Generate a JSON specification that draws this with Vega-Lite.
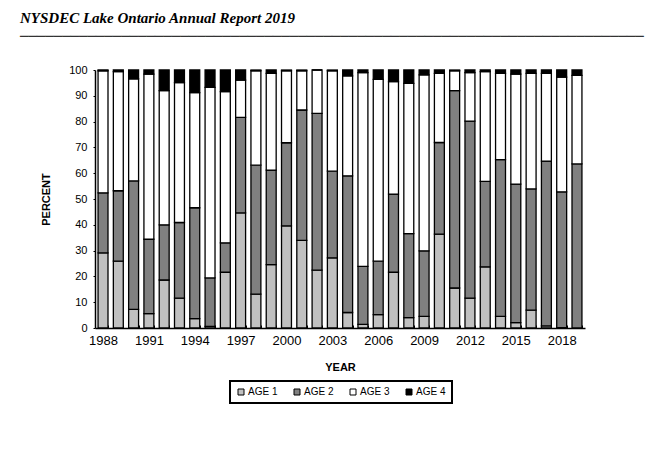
{
  "$schema": "https://vega.github.io/schema/vega-lite/v6.json",
  "width": 490,
  "height": 258,
  "autosize": {"type": "none"},
  "padding": {"left": 95, "top": 70, "right": 66, "bottom": 147},
  "background": "white",
  "title": {
    "text": "NYSDEC Lake Ontario Annual Report 2019",
    "subtitle": "──────────────────────────────────────────────────────────────────────────",
    "anchor": "start",
    "frame": "group",
    "dx": -75,
    "offset": 20,
    "font": "Liberation Serif",
    "fontSize": 15,
    "fontWeight": "bold",
    "fontStyle": "italic",
    "color": "#000",
    "subtitleFont": "DejaVu Sans Mono",
    "subtitleFontSize": 14,
    "subtitleColor": "#333",
    "subtitlePadding": 4
  },
  "datasets": {
    "wide": [
      {"year": "1988", "a1": 29.1, "a2": 23.3, "a3": 47.3, "a4": 0.3},
      {"year": "1989", "a1": 25.9, "a2": 27.3, "a3": 46.2, "a4": 0.6},
      {"year": "1990", "a1": 7.2, "a2": 49.8, "a3": 39.6, "a4": 3.4},
      {"year": "1991", "a1": 5.6, "a2": 28.8, "a3": 64.0, "a4": 1.6},
      {"year": "1992", "a1": 18.6, "a2": 21.4, "a3": 52.0, "a4": 8.0},
      {"year": "1993", "a1": 11.6, "a2": 29.3, "a3": 54.2, "a4": 4.9},
      {"year": "1994", "a1": 3.6, "a2": 43.0, "a3": 44.6, "a4": 8.8},
      {"year": "1995", "a1": 0.6, "a2": 18.8, "a3": 73.9, "a4": 6.7},
      {"year": "1996", "a1": 21.6, "a2": 11.4, "a3": 58.6, "a4": 8.4},
      {"year": "1997", "a1": 44.6, "a2": 37.0, "a3": 14.5, "a4": 3.9},
      {"year": "1998", "a1": 13.1, "a2": 50.0, "a3": 36.6, "a4": 0.3},
      {"year": "1999", "a1": 24.6, "a2": 36.6, "a3": 37.5, "a4": 1.3},
      {"year": "2000", "a1": 39.6, "a2": 32.2, "a3": 27.9, "a4": 0.3},
      {"year": "2001", "a1": 34.0, "a2": 50.5, "a3": 15.2, "a4": 0.3},
      {"year": "2002", "a1": 22.4, "a2": 60.8, "a3": 16.8, "a4": 0.0},
      {"year": "2003", "a1": 27.2, "a2": 33.6, "a3": 38.9, "a4": 0.3},
      {"year": "2004", "a1": 6.0, "a2": 53.0, "a3": 38.7, "a4": 2.3},
      {"year": "2005", "a1": 1.4, "a2": 22.5, "a3": 75.1, "a4": 1.0},
      {"year": "2006", "a1": 5.2, "a2": 20.7, "a3": 70.5, "a4": 3.6},
      {"year": "2007", "a1": 21.6, "a2": 30.3, "a3": 43.6, "a4": 4.5},
      {"year": "2008", "a1": 4.0, "a2": 32.6, "a3": 58.2, "a4": 5.2},
      {"year": "2009", "a1": 4.5, "a2": 25.4, "a3": 68.2, "a4": 1.9},
      {"year": "2010", "a1": 36.4, "a2": 35.5, "a3": 26.8, "a4": 1.3},
      {"year": "2011", "a1": 15.5, "a2": 76.5, "a3": 7.7, "a4": 0.3},
      {"year": "2012", "a1": 11.6, "a2": 68.6, "a3": 18.8, "a4": 1.0},
      {"year": "2013", "a1": 23.7, "a2": 33.1, "a3": 42.6, "a4": 0.6},
      {"year": "2014", "a1": 4.5, "a2": 60.8, "a3": 33.4, "a4": 1.3},
      {"year": "2015", "a1": 2.1, "a2": 53.7, "a3": 42.6, "a4": 1.6},
      {"year": "2016", "a1": 6.9, "a2": 47.0, "a3": 44.8, "a4": 1.3},
      {"year": "2017", "a1": 0.8, "a2": 63.9, "a3": 34.0, "a4": 1.3},
      {"year": "2018", "a1": 0.1, "a2": 52.7, "a3": 44.4, "a4": 2.8},
      {"year": "2019", "a1": 0.0, "a2": 63.6, "a3": 34.3, "a4": 2.1}
    ]
  },
  "data": {"name": "wide"},
  "transform": [
    {"fold": ["a1", "a2", "a3", "a4"], "as": ["age", "pct"]}
  ],
  "mark": {"type": "bar", "stroke": "#000", "strokeWidth": 1.3},
  "encoding": {
    "x": {
      "field": "year",
      "type": "nominal",
      "scale": {"paddingInner": 0.35, "paddingOuter": 0.2},
      "axis": {
        "title": "YEAR",
        "labelAngle": 0,
        "labelExpr": "(toNumber(datum.value) - 1988) % 3 == 0 ? datum.label : ''",
        "tickBand": "extent",
        "tickSize": -3,
        "labelPadding": 9,
        "labelFont": "Liberation Sans",
        "labelFontSize": 13,
        "labelColor": "#000",
        "titleFont": "Liberation Sans",
        "titleFontSize": 11,
        "titleFontWeight": "bold",
        "titleColor": "#000",
        "titlePadding": 14,
        "domainColor": "#000",
        "domainWidth": 1.5,
        "tickColor": "#000"
      }
    },
    "y": {
      "field": "pct",
      "type": "quantitative",
      "stack": "zero",
      "scale": {"domain": [0, 100], "nice": false},
      "axis": {
        "title": "PERCENT",
        "values": [0, 10, 20, 30, 40, 50, 60, 70, 80, 90, 100],
        "grid": false,
        "tickSize": 2,
        "labelPadding": 6,
        "labelFont": "Liberation Sans",
        "labelFontSize": 11,
        "labelColor": "#000",
        "titleFont": "Liberation Sans",
        "titleFontSize": 11,
        "titleFontWeight": "bold",
        "titleColor": "#000",
        "titlePadding": 17,
        "domainColor": "#000",
        "domainWidth": 1.5,
        "tickColor": "#000"
      }
    },
    "color": {
      "field": "age",
      "type": "nominal",
      "scale": {"domain": ["a1", "a2", "a3", "a4"], "range": ["#c0c0c0", "#808080", "#ffffff", "#000000"]},
      "legend": {
        "title": null,
        "orient": "none",
        "direction": "horizontal",
        "legendX": 135,
        "legendY": 311,
        "labelExpr": "'AGE ' + substring(datum.value, 1)",
        "symbolType": "square",
        "symbolSize": 36,
        "symbolStrokeColor": "#000",
        "symbolStrokeWidth": 1,
        "labelFont": "Liberation Sans",
        "labelFontSize": 10,
        "labelColor": "#000",
        "labelOffset": 2,
        "columnPadding": 14,
        "padding": 6,
        "strokeColor": "#000"
      }
    },
    "order": {"field": "age", "sort": "ascending"}
  },
  "config": {
    "view": {"stroke": null},
    "axis": {"grid": false},
    "legend": {"strokeWidth": 2}
  }
}
